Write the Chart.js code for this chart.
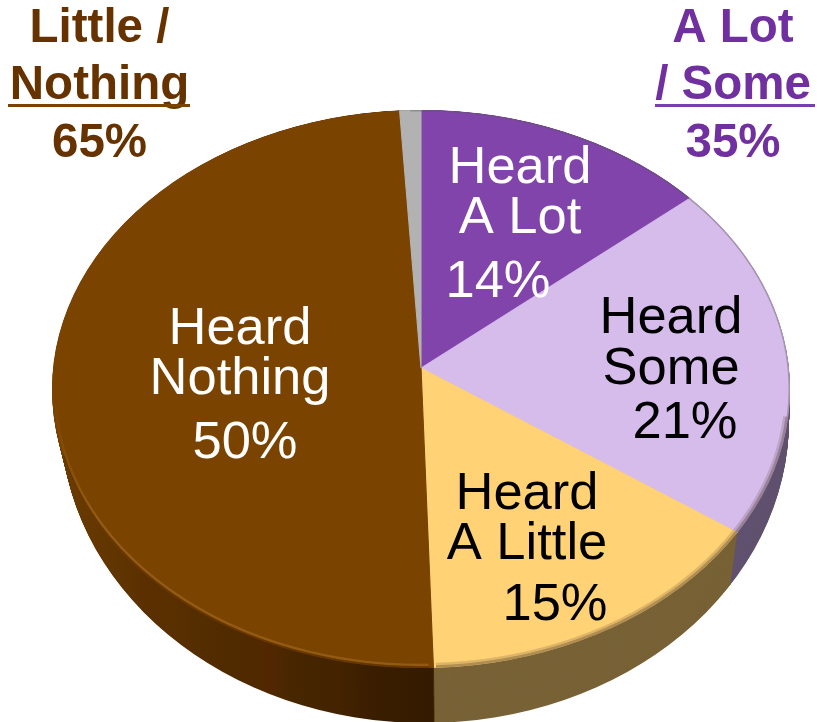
<!DOCTYPE html>
<html>
<head>
<meta charset="utf-8">
<style>html,body{margin:0;padding:0;background:#fff}canvas{display:block}</style>
<script src="https://cdn.jsdelivr.net/npm/chart.js@4"></script>
</head>
<body>
<canvas id="c" width="817" height="722"></canvas>
<script>
// --- data ---
const categories = ["Heard A Lot", "Heard Some", "Heard A Little", "Heard Nothing", "No answer"];
const values = [14, 21, 15, 50, 1];
const topColors = ["#8144ab", "#d6bceb", "#ffd275", "#7a4300", "#b2b2b2"];
const sideColors = ["#5a3a78", "#615270", "#786236", "#4d2900", "#6e6e6e"];
const groupLittle = ["Little /", "Nothing"];
const groupSome = ["A Lot", "/ Some"];

// --- 3D look (projection of the round pie) ---
const apex = {x: 421, y: 368};
const rim = {x: 421, y: 389, rx: 369, ry: 279};
const base = {dx: 4, dy: 31, drx: -5, dry: 24};
const scaleX = 1.4, scaleY = 1.05, depth = 56;

// --- text layout ---
const FONT = '"Liberation Sans", Arial, sans-serif';
const sliceText = [
  {color:"#fff", lines:[["Heard",520,183],["A Lot",520,233],["%",498,297]]},
  {color:"#000", lines:[["Heard",671,333],["Some",671,384],["%",685,438]]},
  {color:"#000", lines:[["Heard",527,509],["A Little",527,559],["%",555,620]]},
  {color:"#fff", lines:[["Heard",240,344],["Nothing",240,394],["%",245,458]]}
];

function rimPath(ctx, t) {
  ctx.beginPath();
  ctx.ellipse(rim.x + base.dx * t, rim.y + base.dy * t, rim.rx + base.drx * t, rim.ry + base.dry * t, 0, 0, Math.PI * 2);
}
function project(ctx, chart, t) {
  const a = chart.getDatasetMeta(0).data[0];
  ctx.translate(apex.x + 0.5 * t, apex.y + depth * t);
  ctx.scale(scaleX, scaleY);
  ctx.translate(-a.x, -a.y);
}
function brownSide(ctx, chart) {
  const a = chart.getDatasetMeta(0).data[0];
  const X = x => a.x + (x - apex.x) / scaleX;
  const g = ctx.createLinearGradient(X(50), 0, X(440), 0);
  const stops = [[0,"#6d3d00"],[.2,"#5e3300"],[.24,"#5b2f00"],[.3,"#5a3000"],[.38,"#542d00"],[.5,"#4f2a00"],[.56,"#522700"],[.62,"#472700"],[.74,"#432300"],[.82,"#3b1e00"],[1,"#331a00"]];
  stops.forEach(s => g.addColorStop(s[0], s[1]));
  return g;
}
const pie3d = {
  id: "pie3d",
  beforeDatasetsDraw(chart) {
    const ctx = chart.ctx, arcs = chart.getDatasetMeta(0).data;
    const brown = brownSide(ctx, chart);
    for (let d = depth; d >= 1; d--) {
      const t = d / depth;
      ctx.save();
      rimPath(ctx, t); ctx.clip();
      project(ctx, chart, t);
      arcs.forEach((arc, i) => {
        const saved = arc.options;
        const o = Object.create(saved);
        o.backgroundColor = i === 3 ? brown : sideColors[i];
        o.borderColor = o.backgroundColor;
        arc.options = o;
        arc.draw(ctx);
        arc.options = saved;
      });
      ctx.restore();
    }
    ctx.save();
    rimPath(ctx, 0); ctx.clip();
    project(ctx, chart, 0);
  },
  afterDatasetsDraw(chart) {
    const ctx = chart.ctx;
    ctx.restore();
    // soft bevel round the top face
    ctx.save();
    rimPath(ctx, 0); ctx.clip();
    const e = (w, col, a0, a1) => {
      ctx.beginPath();
      ctx.ellipse(rim.x, rim.y, rim.rx - w / 2, rim.ry - w / 2, 0, a0, a1);
      ctx.lineWidth = w; ctx.strokeStyle = col; ctx.stroke();
    };
    e(5, "rgba(70,50,40,.18)", 0.1, 1.53);
    e(2.5, "rgba(70,50,40,.3)", 0.1, 1.53);
    // light edge along the brown slice
    const g = ctx.createLinearGradient(0, 400, 0, 520);
    g.addColorStop(0, "rgba(200,140,60,0)");
    g.addColorStop(1, "rgba(200,140,60,.32)");
    ctx.beginPath();
    ctx.ellipse(rim.x, rim.y, rim.rx - 3, rim.ry - 3, 0, 1.55, 3.1);
    ctx.lineWidth = 2.5; ctx.strokeStyle = g; ctx.stroke();
    ctx.beginPath();
    ctx.ellipse(rim.x, rim.y, rim.rx - 1, rim.ry - 1, 0, 1.55, 2.9);
    ctx.lineWidth = 1.5; ctx.strokeStyle = "rgba(60,30,0,.35)"; ctx.stroke();
    e(1.5, "rgba(90,90,90,.4)", -1.6, 0.1);
    ctx.restore();

    // slice labels
    ctx.textAlign = "center";
    ctx.textBaseline = "alphabetic";
    ctx.font = "52.5px " + FONT;
    sliceText.forEach((s, i) => {
      ctx.fillStyle = s.color;
      s.lines.forEach(l => ctx.fillText(l[0] === "%" ? values[i] + "%" : l[0], l[1], l[2]));
    });

    // group headers
    const head = (lines, total, color, lineColor, cx, ul) => {
      ctx.font = "bold 47.5px " + FONT;
      ctx.fillStyle = color;
      ctx.fillText(lines[0], cx, 42);
      ctx.fillText(lines[1], cx, 99);
      ctx.fillText(total + "%", cx, 157);
      ctx.fillStyle = lineColor;
      ctx.fillRect(ul[0], 104, ul[1] - ul[0], 3);
    };
    head(groupLittle, values[2] + values[3], "#663300", "#7a4300", 99.5, [8, 190]);
    head(groupSome, values[0] + values[1], "#7030a0", "#7a3fa8", 733, [655, 815]);
  }
};

new Chart(document.getElementById("c"), {
  type: "pie",
  data: {
    labels: categories,
    datasets: [{data: values, backgroundColor: topColors, borderColor: topColors, borderWidth: 0.8, clip: false}]
  },
  options: {
    responsive: false,
    animation: false,
    events: [],
    layout: {padding: 0},
    plugins: {legend: {display: false}, tooltip: {enabled: false}, title: {display: false}}
  },
  plugins: [pie3d]
});
</script>
</body>
</html>
